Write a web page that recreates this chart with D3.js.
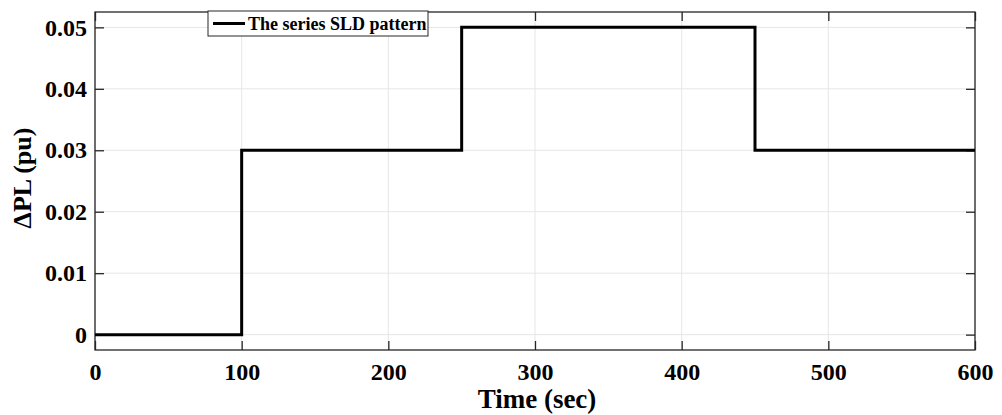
<!DOCTYPE html>
<html><head><meta charset="utf-8">
<script src="https://cdn.jsdelivr.net/npm/d3@7"></script>
<style>body{margin:0;background:#fff}svg{display:block}text{font-family:"Liberation Serif","Times New Roman",serif;font-weight:bold;fill:#000}</style>
</head><body><svg id="c" width="1002" height="415"></svg>
<script>
const times = [0, 100, 250, 450, 600];
const values = [0, 0.03, 0.05, 0.03, 0.03];
const xTicks = [0, 100, 200, 300, 400, 500, 600];
const yTicks = [0, 0.01, 0.02, 0.03, 0.04, 0.05];
const yTickLabels = ["0", "0.01", "0.02", "0.03", "0.04", "0.05"];
const seriesName = "The series SLD pattern";

(function () {
const svg = d3.select("#c");
const L = 95, R = 975, T = 12, B = 350;
const x = d3.scaleLinear().domain([0, 600]).range([L, R]);
const y = d3.scaleLinear().domain([-0.0025, 0.0525]).range([B, T]);

// grid
const g = svg.append("g");
g.selectAll(".gx").data(xTicks).join("line")
  .attr("x1", d => x(d)).attr("x2", d => x(d)).attr("y1", T).attr("y2", B)
  .attr("stroke", "#e6e6e6").attr("stroke-width", 1);
g.selectAll(".gy").data(yTicks).join("line")
  .attr("y1", d => y(d)).attr("y2", d => y(d)).attr("x1", L).attr("x2", R)
  .attr("stroke", "#e6e6e6").attr("stroke-width", 1);

// axes
const tickLen = 9;
const axB = svg.append("g").attr("transform", `translate(0,${B})`)
  .call(d3.axisBottom(x).tickValues(xTicks).tickSizeInner(-tickLen).tickSizeOuter(0).tickPadding(13));
const axT = svg.append("g").attr("transform", `translate(0,${T})`)
  .call(d3.axisTop(x).tickValues(xTicks).tickSizeInner(-tickLen).tickSizeOuter(0).tickFormat(""));
const axL = svg.append("g").attr("transform", `translate(${L},0)`)
  .call(d3.axisLeft(y).tickValues(yTicks).tickSizeInner(-tickLen).tickSizeOuter(0).tickPadding(8)
    .tickFormat((d, i) => yTickLabels[i]));
const axR = svg.append("g").attr("transform", `translate(${R},0)`)
  .call(d3.axisRight(y).tickValues(yTicks).tickSizeInner(-tickLen).tickSizeOuter(0).tickFormat(""));
[axB, axT, axL, axR].forEach(a => {
  a.select(".domain").remove();
  a.selectAll(".tick line").attr("stroke", "#262626").attr("stroke-width", 1.3);
  a.selectAll("text").attr("font-size", 24).attr("font-family", null).attr("fill", "#000");
});
svg.append("rect").attr("x", L).attr("y", T).attr("width", R - L).attr("height", B - T)
  .attr("fill", "none").attr("stroke", "#262626").attr("stroke-width", 1.3);

// line
const data = times.map((t, i) => [t, values[i]]);
svg.append("path").datum(data)
  .attr("d", d3.line().x(d => x(d[0])).y(d => y(d[1])).curve(d3.curveStepAfter))
  .attr("fill", "none").attr("stroke", "#000").attr("stroke-width", 3);

// legend
const lg = svg.append("g");
lg.append("rect").attr("x", 208).attr("y", 11).attr("width", 220).attr("height", 25)
  .attr("fill", "#fff").attr("stroke", "#262626").attr("stroke-width", 1);
lg.append("line").attr("x1", 213).attr("x2", 245).attr("y1", 23.5).attr("y2", 23.5)
  .attr("stroke", "#000").attr("stroke-width", 3);
lg.append("text").attr("x", 248).attr("y", 30).attr("font-size", 18).text(seriesName);

// axis labels
svg.append("text").attr("x", (L + R) / 2 + 2).attr("y", 408).attr("text-anchor", "middle")
  .attr("font-size", 27).text("Time (sec)");
svg.append("text").attr("transform", `translate(31,${(T + B) / 2 - 3}) rotate(-90)`)
  .attr("text-anchor", "middle").attr("font-size", 26).text("ΔPL (pu)");
})();
</script></body></html>
